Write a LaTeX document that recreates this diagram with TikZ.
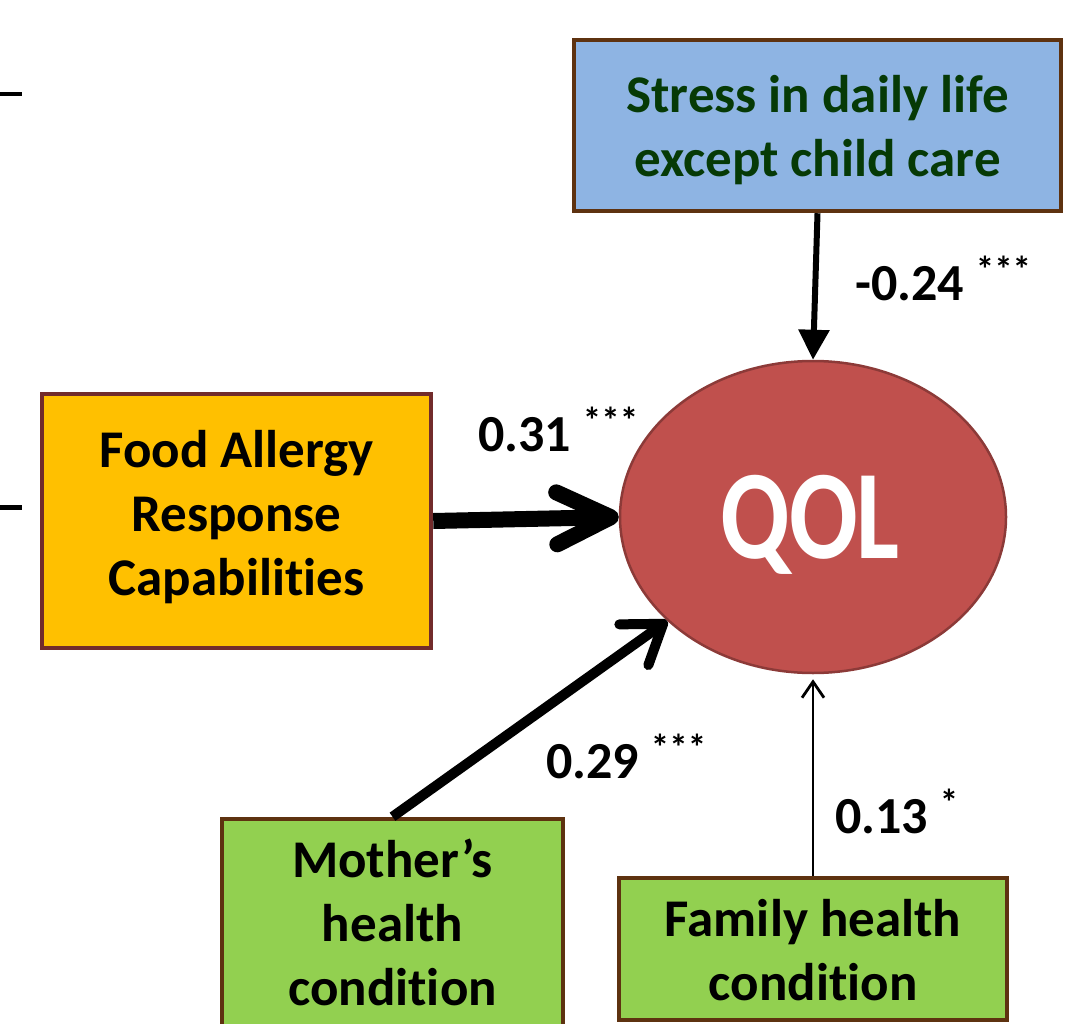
\documentclass[tikz,border=0pt]{standalone}
\usepackage{fontspec}
\setmainfont{Carlito}[Ligatures=NoCommon]
\usetikzlibrary{arrows.meta,shapes.geometric}
\definecolor{boxbrown}{HTML}{5E3210}
\definecolor{foodborder}{HTML}{722B2B}
\definecolor{stressfill}{HTML}{8EB4E3}
\definecolor{foodfill}{HTML}{FFC000}
\definecolor{greenfill}{HTML}{92D050}
\definecolor{qolfill}{HTML}{C0504D}
\definecolor{qolborder}{HTML}{8C3A38}
\definecolor{darkgreentext}{HTML}{063A06}
\tikzset{
  box/.style={draw=boxbrown, line width=4.5pt, rectangle, align=center, inner sep=0pt,
    font=\fontsize{53}{64}\selectfont\bfseries},
  coef/.style={anchor=base west, inner sep=0pt, font=\fontsize{52}{60}\selectfont\bfseries},
  stub/.style={line width=4.5pt},
}
\newcommand{\stars}[1]{\raisebox{18pt}{\fontsize{37}{37}\selectfont #1}}
\begin{document}
\begin{tikzpicture}[x=1pt,y=-1pt]
\useasboundingbox (0,0) rectangle (1091,1024);
% boxes
\node[box, fill=stressfill, text=darkgreentext, minimum width=487pt, minimum height=171pt,
  text height=113pt, text depth=10pt] (stress) at (817.5,125.5) {Stress in daily life\\except child care};
\node[box, draw=foodborder, fill=foodfill, minimum width=389pt, minimum height=254pt,
  text height=158pt, text depth=10pt] (food) at (236.5,521) {Food Allergy\\Response\\Capabilities};
\node[box, fill=greenfill, minimum width=341pt, minimum height=211pt,
  text height=161pt, text depth=0pt] (mother) at (392.5,924.5) {Mother’s\\health\\condition};
\node[box, fill=greenfill, minimum width=388pt, minimum height=142pt,
  text height=102pt, text depth=0pt] (family) at (813,949) {Family health\\condition};
\node[ellipse, draw=qolborder, fill=qolfill, line width=2.5pt, minimum width=386pt, minimum height=312pt, inner sep=0pt,
  text=white, text height=82pt, text depth=0pt, font=\fontsize{127}{127}\selectfont\bfseries] (qol) at (813,517) {\hspace*{-7pt}\scalebox{0.8}[1]{Q\kern-1pt O\kern-2pt L}};
% arrows
\draw[line width=6pt, -{Triangle[length=30pt, width=30pt]}] (stress.south) -- (qol.north);
\draw[line width=16pt, -{Straight Barb[round, length=54pt, width=52pt]}] (food.east) -- (qol.west);
\draw[line width=10pt, -{Straight Barb[round, length=36pt, width=50pt]}] (mother.north) -- (qol);
\draw[line width=2.8pt, shorten >=5pt, -{Straight Barb[length=16pt, width=22pt]}] (family.north) -- (qol.south);
% coefficients
\node[coef] (c1) at (855,300) {-0.24 \stars{***}};
\node[coef] (c2) at (478,451) {0.31 \stars{***}};
\node[coef] (c3) at (546,778) {0.29 \stars{***}};
\node[coef] (c4) at (835,833) {0.13 \stars{*}};
% left edge stubs
\coordinate (s1a) at (0,94);
\coordinate (s1b) at (22,94);
\coordinate (s2a) at (0,507.5);
\coordinate (s2b) at (22,507.5);
\draw[stub] (s1a) -- (s1b);
\draw[stub] (s2a) -- (s2b);
\end{tikzpicture}
\end{document}
